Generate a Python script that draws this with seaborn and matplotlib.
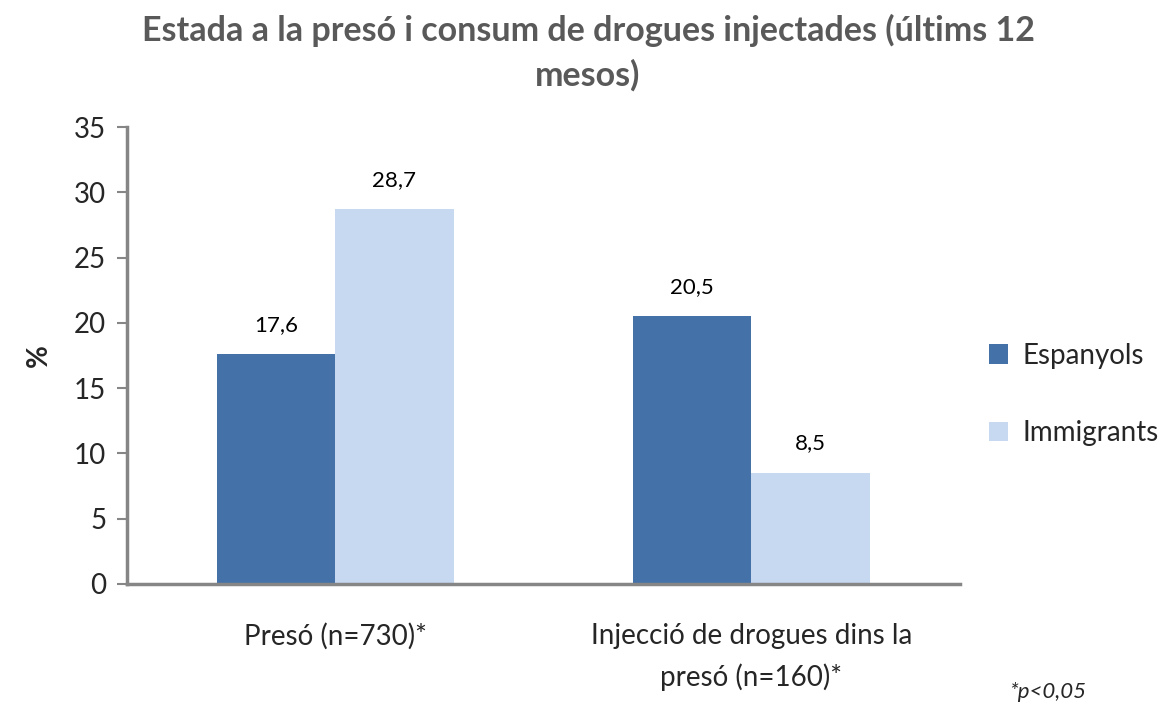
import pandas as pd
import matplotlib
matplotlib.use("Agg")
import matplotlib.pyplot as plt
import seaborn as sns

categories = ["Presó (n=730)*", "Injecció de drogues dins la\npresó (n=160)*"]
espanyols = [17.6, 20.5]
immigrants = [28.7, 8.5]
groups = ["Espanyols", "Immigrants"]
colors = ["#4472A8", "#C6D9F1"]

df = pd.DataFrame({
    "cat": categories * 2,
    "grup": [groups[0]] * 2 + [groups[1]] * 2,
    "val": espanyols + immigrants,
})

sns.set_style("white")
plt.rcParams['font.family'] = ['Lato', 'DejaVu Sans']

fig = plt.figure(figsize=(11.76, 7.06), dpi=100)
ax = fig.add_axes([0.108, 0.173, 0.708, 0.647])

sns.barplot(data=df, x="cat", y="val", hue="grup", order=categories, hue_order=groups,
            palette=dict(zip(groups, colors)), width=0.57, saturation=1, linewidth=0, ax=ax)

for cont in ax.containers:
    ax.bar_label(cont, labels=[f"{v:.1f}".replace(".", ",") for v in cont.datavalues],
                 padding=14, fontsize=16, color="black")

ax.set_ylim(0, 35)
ax.set_yticks(range(0, 36, 5))
ax.set_xlim(-0.5, 1.5)
ax.tick_params(axis="y", labelsize=20, length=7, width=1.5, color="#868686", pad=8, left=True)
ax.tick_params(axis="x", labelsize=20, length=0, pad=28)
for lab in ax.get_xticklabels():
    lab.set_linespacing(1.65)
for s in ["top", "right"]:
    ax.spines[s].set_visible(False)
for s in ["left", "bottom"]:
    ax.spines[s].set_color("#868686")
    ax.spines[s].set_linewidth(2.5)

ax.set_xlabel("")
ax.set_ylabel("%", fontsize=20, fontweight="bold", labelpad=16)

fig.suptitle("Estada a la presó i consum de drogues injectades (últims 12\nmesos)",
             x=0.5, y=0.98, fontsize=24.5, fontweight="bold", color="#595959", linespacing=1.45)

ax.legend(loc="center left", bbox_to_anchor=(1.005, 0.415), frameon=False, fontsize=20,
          handlelength=0.7, handleheight=0.7, labelspacing=1.85, handletextpad=0.5)

fig.text(0.858, 0.012, "*p<0,05", fontsize=16, style="italic")

fig.savefig("out.png", dpi=100)
